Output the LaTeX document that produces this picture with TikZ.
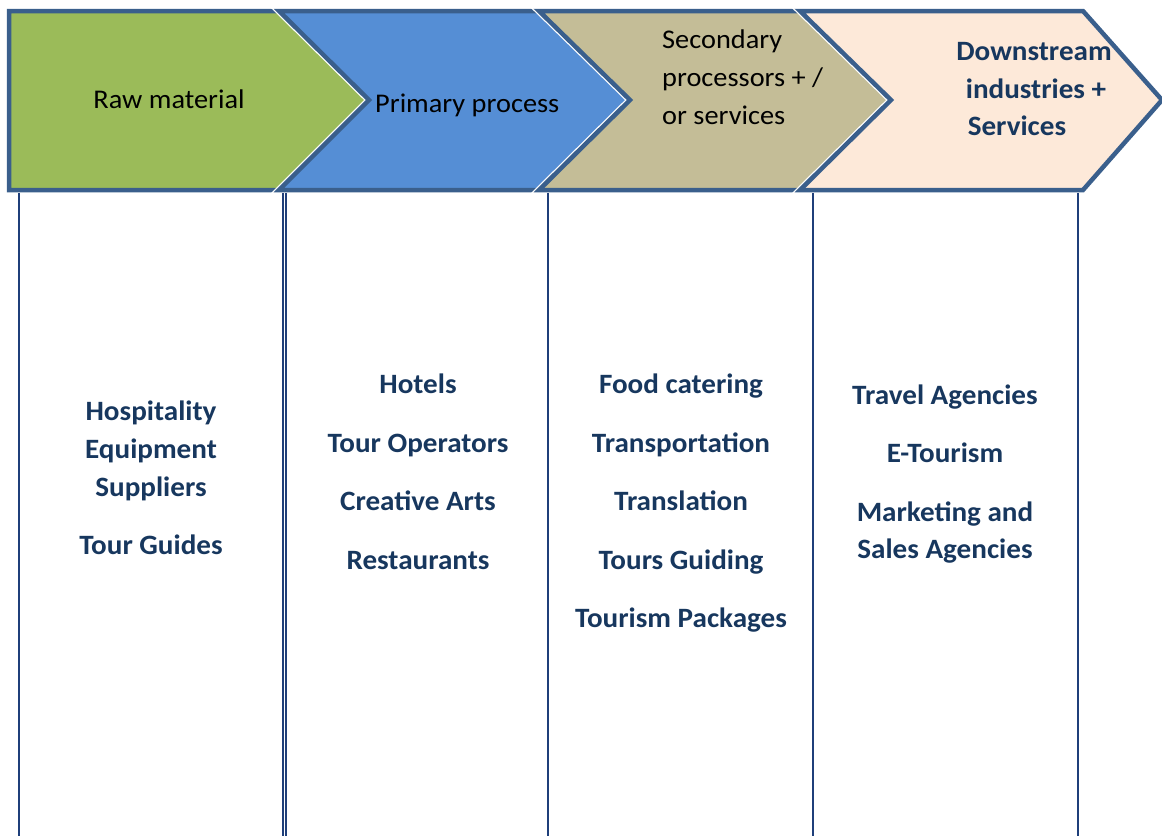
\documentclass[tikz,border=0pt]{standalone}
\usepackage{fontspec}
\setmainfont{Carlito}[FakeStretch=1.05]
\newfontfamily\boldstretch{Carlito Bold}[FakeStretch=1.04]
\definecolor{bord}{HTML}{3A5F8C}
\definecolor{cgreen}{HTML}{9BBB59}
\definecolor{cblue}{HTML}{558ED5}
\definecolor{ctan}{HTML}{C4BD97}
\definecolor{cpeach}{HTML}{FDE9D9}
\definecolor{navy}{HTML}{17375E}
\definecolor{vline}{HTML}{1F3F7A}
\tikzset{
  chev/.style={draw=bord, line width=4.5pt, line join=miter},
  halo/.style={draw=white, line width=7pt, line join=miter},
  hdr/.style={anchor=base, inner sep=0pt, font=\fontsize{27}{32}\selectfont, text=black},
  hdrb/.style={anchor=base, inner sep=0pt, font=\fontsize{28}{33}\boldstretch, text=navy},
  item/.style={anchor=base, inner sep=0pt, font=\fontsize{28}{33}\boldstretch, text=navy},
  col/.style={draw=vline, line width=2pt}
}
\begin{document}
\begin{tikzpicture}[x=1pt,y=-1pt]
\useasboundingbox (0,0) rectangle (1162,836);
% chevrons
\filldraw[chev, fill=cgreen] (9,11) -- (279,11) -- (369,100) -- (279,190) -- (9,190) -- cycle;
\draw[halo] (279,11) -- (539,11) -- (630,100) -- (539,190) -- (279,190) -- (369,100) -- cycle;
\filldraw[chev, fill=cblue] (279,11) -- (539,11) -- (630,100) -- (539,190) -- (279,190) -- (369,100) -- cycle;
\draw[halo] (539,11) -- (800,11) -- (890,100) -- (800,190) -- (539,190) -- (630,100) -- cycle;
\filldraw[chev, fill=ctan] (539,11) -- (800,11) -- (890,100) -- (800,190) -- (539,190) -- (630,100) -- cycle;
\draw[halo] (800,11) -- (1083,11) -- (1162,100) -- (1083,190) -- (800,190) -- (891,100) -- cycle;
\filldraw[chev, fill=cpeach] (800,11) -- (1083,11) -- (1162,100) -- (1083,190) -- (800,190) -- (891,100) -- cycle;
% column lines
\coordinate (t1) at (19,193); \coordinate (b1) at (19,836);
\coordinate (t2) at (283,193); \coordinate (b2) at (283,836);
\coordinate (t2b) at (286,193); \coordinate (b2b) at (286,836);
\coordinate (t3) at (548,193); \coordinate (b3) at (548,836);
\coordinate (t4) at (813,193); \coordinate (b4) at (813,836);
\coordinate (t5) at (1078,193); \coordinate (b5) at (1078,836);
\draw[col] (t1) -- (b1);
\draw[col, line width=1.4pt] (t2) -- (b2);
\draw[col, line width=1.4pt] (t2b) -- (b2b);
\draw[col, line width=1.5pt] (t3) -- (b3);
\draw[col, line width=1.5pt] (t4) -- (b4);
\draw[col, line width=1.5pt] (t5) -- (b5);
% header texts
\node[hdr] (h1) at (169,108) {Raw material};
\node[hdr, anchor=base west] (h2) at (375,112) {Primary process};
\node[hdr, anchor=base west] (h3a) at (662,48) {Secondary};
\node[hdr, anchor=base west] (h3b) at (662,86) {processors + /};
\node[hdr, anchor=base west] (h3c) at (662,124) {or services};
\node[hdrb] (h4a) at (1034,60) {Downstream};
\node[hdrb] (h4b) at (1036,98) {industries +};
\node[hdrb] (h4c) at (1017,135) {Services};
% column 1
\node[item] (a1) at (151,420) {Hospitality};
\node[item] (a2) at (151,458) {Equipment};
\node[item] (a3) at (151,496) {Suppliers};
\node[item] (a4) at (151,554) {Tour Guides};
% column 2
\node[item] (b1n) at (418,393) {Hotels};
\node[item] (b2n) at (418,452) {Tour Operators};
\node[item] (b3n) at (418,510) {Creative Arts};
\node[item] (b4n) at (418,569) {Restaurants};
% column 3
\node[item] (c1) at (681,393) {Food catering};
\node[item] (c2) at (681,452) {Transportation};
\node[item] (c3) at (681,510) {Translation};
\node[item] (c4) at (681,569) {Tours Guiding};
\node[item] (c5) at (681,627) {Tourism Packages};
% column 4
\node[item] (d1) at (945,404) {Travel Agencies};
\node[item] (d2) at (945,462) {E-Tourism};
\node[item] (d3) at (945,521) {Marketing and};
\node[item] (d4) at (945,558) {Sales Agencies};
\end{tikzpicture}
\end{document}
